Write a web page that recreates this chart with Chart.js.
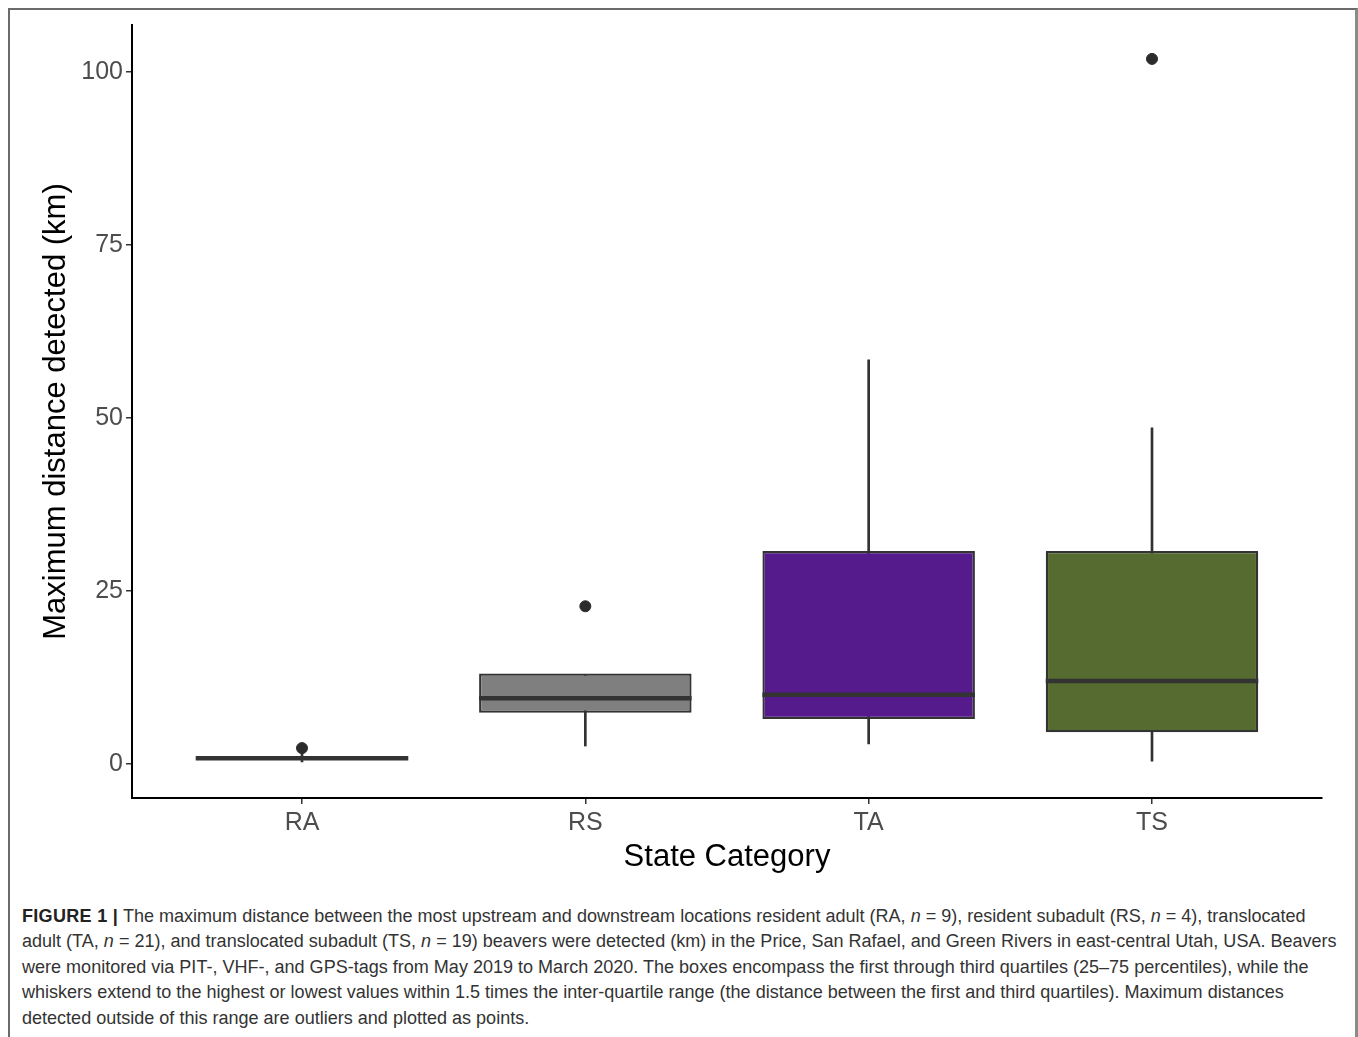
<!DOCTYPE html>
<html>
<head>
<meta charset="utf-8">
<script src="https://cdn.jsdelivr.net/npm/chart.js@4/dist/chart.umd.min.js"></script>
<style>
  html, body { margin: 0; padding: 0; background: #fff; }
  body { width: 1358px; height: 1037px; position: relative; overflow: hidden; font-family: "Liberation Sans", Arial, sans-serif; }
  .frame { position: absolute; left: 8px; top: 8px; width: 1345px; height: 1060px; border: 2px solid #6a6a6a; border-right-width: 3px; border-right-color: #8a8a8a; }
  .plot { position: absolute; left: 0; top: 0; width: 1358px; height: 890px; }
  .caption { position: absolute; left: 22px; top: 904px; width: 1330px; font-size: 18.05px; line-height: 25.4px; color: #333; white-space: nowrap; }
  .caption b { color: #222; letter-spacing: 0.3px; }
</style>
</head>
<body>
<div class="frame"></div>
<div class="plot"><canvas id="chart"></canvas></div>
<div class="caption">
  <b>FIGURE 1 |</b> The maximum distance between the most upstream and downstream locations resident adult (RA, <i>n</i> = 9), resident subadult (RS, <i>n</i> = 4), translocated<br>
  adult (TA, <i>n</i> = 21), and translocated subadult (TS, <i>n</i> = 19) beavers were detected (km) in the Price, San Rafael, and Green Rivers in east-central Utah, USA. Beavers<br>
  were monitored via PIT-, VHF-, and GPS-tags from May 2019 to March 2020. The boxes encompass the first through third quartiles (25–75 percentiles), while the<br>
  whiskers extend to the highest or lowest values within 1.5 times the inter-quartile range (the distance between the first and third quartiles). Maximum distances<br>
  detected outside of this range are outliers and plotted as points.
</div>
<script>
const categories = ['RA', 'RS', 'TA', 'TS'];
const lowerWhisker = [0.3, 2.6, 2.9, 0.4];
const firstQuartile = [0.6, 7.4, 6.5, 4.6];
const medians = [0.85, 9.5, 10.0, 12.0];
const thirdQuartile = [1.1, 13.1, 30.8, 30.8];
const upperWhisker = [1.9, 12.9, 58.4, 48.6];
const outlierCat = [1, 2, 4];
const outlierVal = [2.3, 22.8, 101.9];
const boxColors = ['#8b8b8b', '#7f7f7f', '#551a8b', '#556b2f'];
const yTicks = [0, 25, 50, 75, 100];

Chart.defaults.font.family = '"Liberation Sans", Arial, sans-serif';

// median bars on top of the boxes
const medianLines = {
  id: 'medianLines',
  afterDatasetsDraw(chart) {
    const ctx = chart.ctx, y = chart.scales.y;
    const boxes = chart.getDatasetMeta(0).data;
    ctx.save();
    ctx.strokeStyle = '#333333';
    ctx.lineWidth = 4.5;
    medians.forEach((m, i) => {
      const b = boxes[i];
      const py = y.getPixelForValue(m);
      ctx.beginPath();
      ctx.moveTo(b.x - b.width / 2, py);
      ctx.lineTo(b.x + b.width / 2, py);
      ctx.stroke();
    });
    ctx.restore();
  }
};

new Chart(document.getElementById('chart'), {
  type: 'bar',
  data: {
    datasets: [
      {
        label: 'box',
        order: 2,
        grouped: false,
        data: categories.map((c, i) => ({ x: i + 1, y: [firstQuartile[i], thirdQuartile[i]] })),
        backgroundColor: boxColors,
        borderColor: '#333333',
        borderWidth: 2.3,
        borderSkipped: false,
        categoryPercentage: 0.75,
        barPercentage: 1
      },
      {
        label: 'whisker',
        order: 3,
        grouped: false,
        data: categories.map((c, i) => ({ x: i + 1, y: [lowerWhisker[i], upperWhisker[i]] })),
        backgroundColor: '#333333',
        barThickness: 2
      },
      {
        type: 'scatter',
        label: 'outliers',
        order: 1,
        data: outlierCat.map((c, i) => ({ x: c, y: outlierVal[i] })),
        backgroundColor: '#2b2b2b',
        borderColor: '#2b2b2b',
        pointRadius: 5.5,
        pointHoverRadius: 5.5
      }
    ]
  },
  options: {
    responsive: true,
    maintainAspectRatio: false,
    animation: false,
    layout: { padding: { top: 25, right: 36, left: 0, bottom: 0 } },
    plugins: { legend: { display: false }, tooltip: { enabled: false } },
    scales: {
      x: {
        type: 'linear',
        offset: false,
        min: 0.4,
        max: 4.6,
        afterBuildTicks: s => { s.ticks = categories.map((c, i) => ({ value: i + 1 })); },
        afterFit: s => { s.height = 92; },
        border: { display: true, color: '#000', width: 2 },
        grid: { offset: false, drawOnChartArea: false, drawTicks: true, tickLength: 6, color: '#333', lineWidth: 1.5 },
        ticks: { color: '#4d4d4d', font: { size: 25 }, padding: 4, maxRotation: 0,
          callback: v => categories[Math.round(v) - 1] },
        title: { display: true, text: 'State Category', color: '#000', font: { size: 31 }, padding: { bottom: 14 } }
      },
      y: {
        min: -4.91,
        max: 106.8,
        afterBuildTicks: s => { s.ticks = yTicks.map(v => ({ value: v })); },
        afterFit: s => { s.width = 132; },
        border: { display: true, color: '#000', width: 2 },
        grid: { drawOnChartArea: false, drawTicks: true, tickLength: 6, color: '#333', lineWidth: 1.5 },
        ticks: { color: '#4d4d4d', font: { size: 25 }, padding: 3 },
        title: { display: true, text: 'Maximum distance detected (km)', color: '#000', font: { size: 31 }, padding: { top: 38 } }
      }
    }
  },
  plugins: [medianLines]
});
</script>
</body>
</html>
